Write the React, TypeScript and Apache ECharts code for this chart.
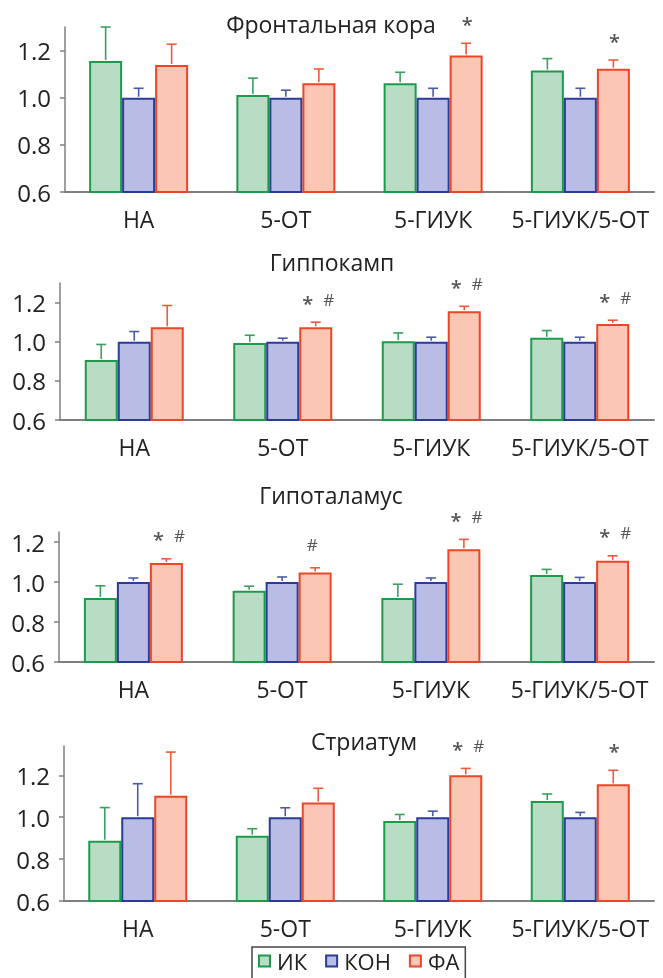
import React, { useEffect, useRef } from 'react';
import * as echarts from 'echarts';

// ---------- data ----------
const categories = ['НА', '5-ОТ', '5-ГИУК', '5-ГИУК/5-ОТ'];
const seriesNames = ['ИК', 'КОН', 'ФА'];
const yTicks = [0.6, 0.8, 1.0, 1.2];
const panelTitles = ['Фронтальная кора', 'Гиппокамп', 'Гипоталамус', 'Стриатум'];
const yMin = 0.6;
const yMax = [1.3, 1.3, 1.25, 1.34];

// Фронтальная кора
const frontalIK = [1.156, 1.011, 1.061, 1.115];
const frontalKON = [1.0, 1.0, 1.0, 1.0];
const frontalFA = [1.139, 1.061, 1.179, 1.123];
const frontalIKErr = [0.144, 0.072, 0.047, 0.051];
const frontalKONErr = [0.04, 0.032, 0.04, 0.04];
const frontalFAErr = [0.088, 0.061, 0.052, 0.037];
const frontalMarks = ['', '', '*', '*'];

// Гиппокамп
const hippoIK = [0.906, 0.994, 1.003, 1.02];
const hippoKON = [1.0, 1.0, 1.0, 1.0];
const hippoFA = [1.074, 1.074, 1.156, 1.091];
const hippoIKErr = [0.08, 0.039, 0.042, 0.037];
const hippoKONErr = [0.052, 0.018, 0.023, 0.023];
const hippoFAErr = [0.111, 0.026, 0.025, 0.019];
const hippoMarks = ['', '* #', '* #', '* #'];

// Гипоталамус
const hypoIK = [0.92, 0.956, 0.92, 1.035];
const hypoKON = [1.0, 1.0, 1.0, 1.0];
const hypoFA = [1.095, 1.048, 1.164, 1.106];
const hypoIKErr = [0.061, 0.023, 0.069, 0.028];
const hypoKONErr = [0.02, 0.025, 0.02, 0.023];
const hypoFAErr = [0.021, 0.023, 0.049, 0.025];
const hypoMarks = ['* #', '#', '* #', '* #'];

// Стриатум
const striIK = [0.888, 0.912, 0.982, 1.077];
const striKON = [1.0, 1.0, 1.0, 1.0];
const striFA = [1.103, 1.07, 1.2, 1.157];
const striIKErr = [0.158, 0.033, 0.031, 0.034];
const striKONErr = [0.16, 0.045, 0.029, 0.023];
const striFAErr = [0.208, 0.068, 0.033, 0.067];
const striMarks = ['', '', '* #', '*'];

const panels = [
  { means: [frontalIK, frontalKON, frontalFA], errs: [frontalIKErr, frontalKONErr, frontalFAErr], marks: frontalMarks },
  { means: [hippoIK, hippoKON, hippoFA], errs: [hippoIKErr, hippoKONErr, hippoFAErr], marks: hippoMarks },
  { means: [hypoIK, hypoKON, hypoFA], errs: [hypoIKErr, hypoKONErr, hypoFAErr], marks: hypoMarks },
  { means: [striIK, striKON, striFA], errs: [striIKErr, striKONErr, striFAErr], marks: striMarks },
];

// ---------- layout & style ----------
const W = 663;
const H = 978;
const RIGHT_EDGE = 654;
const gridBoxes = [
  { left: 65, top: 27, height: 165 },
  { left: 60, top: 283, height: 137 },
  { left: 59, top: 532, height: 130 },
  { left: 64, top: 746, height: 155 },
];
const titlePos = [
  [331, 24],
  [332, 262],
  [331, 495],
  [364, 741],
];
const BAR_W = 33;
const FONT = "'Open Sans', 'DejaVu Sans', sans-serif";
const fills = ['#b9dcc4', '#b9bde6', '#fbc6b3'];
const strokes = ['#1e9a4c', '#2b3b98', '#ec4528'];
const errColors = ['#3a9f5e', '#4b5aa8', '#ec5a3e'];
const markColor = '#555555';
const axisColor = '#7f7f7f';

export default function App() {
  const ref = useRef<HTMLDivElement>(null);

  useEffect(() => {
    if (!ref.current) return;
    const chart = echarts.init(ref.current, undefined, { renderer: 'svg' });

    const grid: any[] = [];
    const xAxis: any[] = [];
    const yAxis: any[] = [];
    const series: any[] = [];

    panels.forEach((p, pi) => {
      const g = gridBoxes[pi];
      grid.push({ left: g.left, top: g.top, width: RIGHT_EDGE - g.left, height: g.height, containLabel: false });
      xAxis.push({
        type: 'category',
        gridIndex: pi,
        data: categories,
        axisTick: { show: false },
        axisLine: { lineStyle: { color: axisColor, width: 2 } },
        axisLabel: { interval: 0, fontSize: 23, color: '#222', margin: 15, fontFamily: FONT },
      });
      yAxis.push({
        type: 'value',
        gridIndex: pi,
        min: yMin,
        max: yMax[pi],
        interval: 0.2,
        splitLine: { show: false },
        axisLine: { show: true, lineStyle: { color: axisColor, width: 1.5 } },
        axisTick: { show: true, length: 5, inside: false, lineStyle: { color: axisColor, width: 1.5 }, customValues: yTicks },
        axisLabel: {
          fontSize: 24,
          color: '#222',
          margin: 14,
          fontFamily: FONT,
          customValues: yTicks,
          formatter: (v: number) => v.toFixed(1),
        },
      });

      for (let s = 0; s < 3; s++) {
        series.push({
          type: 'bar',
          name: seriesNames[s],
          xAxisIndex: pi,
          yAxisIndex: pi,
          data: p.means[s],
          barWidth: BAR_W,
          barGap: '0%',
          itemStyle: { color: fills[s], borderColor: strokes[s], borderWidth: 2 },
          emphasis: { disabled: true },
          z: 2,
        });
      }

      const errData: number[][] = [];
      for (let c = 0; c < categories.length; c++) {
        for (let s = 0; s < 3; s++) {
          errData.push([c, p.means[s][c], p.means[s][c] + p.errs[s][c], s]);
        }
      }
      series.push({
        type: 'custom',
        xAxisIndex: pi,
        yAxisIndex: pi,
        z: 3,
        silent: true,
        encode: { x: 0, y: [1, 2] },
        data: errData,
        renderItem: (params: any, api: any) => {
          const c = api.value(0);
          const s = api.value(3);
          const base = api.coord([c, api.value(1)]);
          const top = api.coord([c, api.value(2)]);
          const x = base[0] + (s - 1) * BAR_W;
          const st = { stroke: errColors[s], lineWidth: 1.6 };
          return {
            type: 'group',
            children: [
              { type: 'line', shape: { x1: x, y1: base[1] - 1, x2: x, y2: top[1] }, style: st },
              { type: 'line', shape: { x1: x - 5, y1: top[1], x2: x + 5, y2: top[1] }, style: st },
            ],
          };
        },
      });

      const markData: number[][] = [];
      const markTexts: string[] = [];
      p.marks.forEach((m, c) => {
        if (m) {
          markData.push([c, p.means[2][c] + p.errs[2][c]]);
          markTexts.push(m);
        }
      });
      series.push({
        type: 'custom',
        xAxisIndex: pi,
        yAxisIndex: pi,
        z: 4,
        silent: true,
        encode: { x: 0, y: 1 },
        data: markData,
        renderItem: (params: any, api: any) => {
          const m = markTexts[params.dataIndex];
          const pt = api.coord([api.value(0), api.value(1)]);
          const cx = pt[0] + BAR_W;
          const cy = pt[1] - 23;
          const star = (x: number) => ({
            type: 'text',
            style: { text: '*', x, y: cy + 4, align: 'center', verticalAlign: 'middle', fontSize: 20, fontFamily: FONT, fill: markColor, fontWeight: 600 },
          });
          const hash = (x: number) => ({
            type: 'text',
            style: { text: '#', x, y: cy, align: 'center', verticalAlign: 'middle', fontSize: 17, fontFamily: FONT, fill: markColor },
          });
          const children: any[] = [];
          if (m === '* #') {
            children.push(star(cx - 8), hash(cx + 13));
          } else if (m === '*') {
            children.push(star(cx + 1));
          } else if (m === '#') {
            children.push(hash(cx - 3));
          }
          return { type: 'group', children };
        },
      });
    });

    const graphic = panelTitles.map((t, i) => ({
      type: 'text',
      x: titlePos[i][0],
      y: titlePos[i][1],
      style: { text: t, align: 'center', verticalAlign: 'middle', fontSize: 23, fontFamily: FONT, fill: '#222' },
    }));

    chart.setOption({
      animation: false,
      textStyle: { fontFamily: FONT },
      grid,
      xAxis,
      yAxis,
      series,
      graphic,
      legend: {
        left: 252,
        top: 947,
        orient: 'horizontal',
        padding: [3, 6, 14, 6],
        borderColor: '#444',
        borderWidth: 1.5,
        itemWidth: 11,
        itemHeight: 11,
        itemGap: 18,
        icon: 'rect',
        selectedMode: false,
        textStyle: { fontSize: 22, lineHeight: 22, color: '#222', fontFamily: FONT, padding: [0, 0, 0, 2] },
        data: seriesNames.map((n, i) => ({
          name: n,
          itemStyle: { color: fills[i], borderColor: strokes[i], borderWidth: 2 },
        })),
      },
    });

    return () => chart.dispose();
  }, []);

  return <div ref={ref} style={{ position: 'fixed', left: 0, top: 0, width: W, height: H }} />;
}
